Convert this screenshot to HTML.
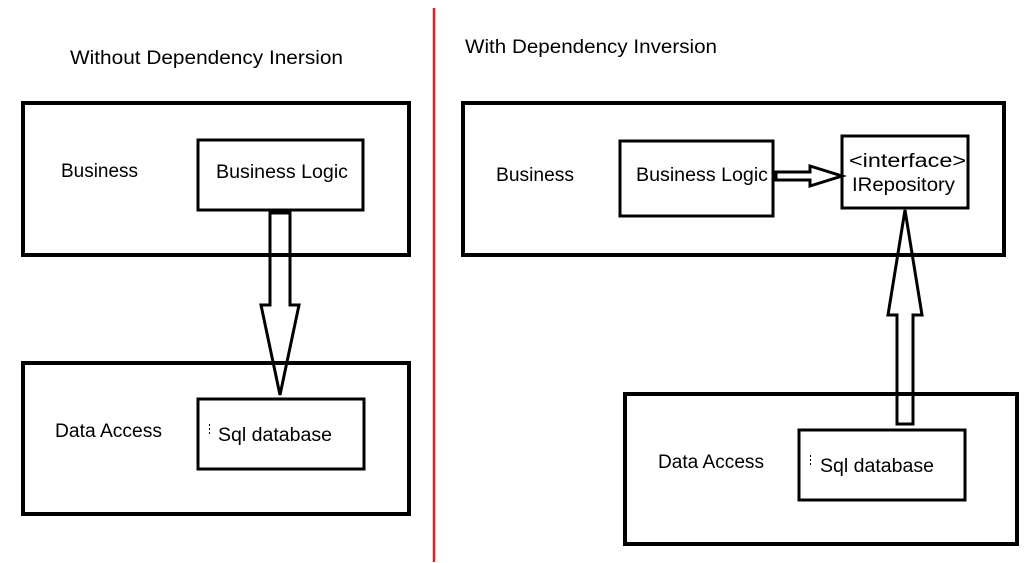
<!DOCTYPE html>
<html><head><meta charset="utf-8"><style>
html,body{margin:0;padding:0;background:#fff;}
svg{display:block;}
text{font-family:"Liberation Sans","DejaVu Sans",sans-serif;fill:#000;}
</style></head><body>
<svg width="1029" height="563" viewBox="0 0 1029 563" xmlns="http://www.w3.org/2000/svg">
<rect width="1029" height="563" fill="#fff"/>
<line x1="434" y1="8" x2="434" y2="562" stroke="#e02020" stroke-width="2.5"/>
<g fill="none" stroke="#000">
<rect x="23" y="103" width="386" height="152" stroke-width="4"/>
<rect x="198" y="140" width="165" height="70" stroke-width="3"/>
<rect x="23" y="363" width="386" height="151" stroke-width="4"/>
<rect x="198" y="399" width="166" height="70" stroke-width="3"/>
<polygon points="270,213 290,213 290,305 299,305 280,395 261,305 270,305" stroke-width="3" stroke-linejoin="miter"/>
<rect x="463" y="103" width="541" height="152" stroke-width="4"/>
<rect x="620" y="141" width="153" height="75" stroke-width="3"/>
<rect x="842" y="136" width="126" height="72" stroke-width="3"/>
<rect x="625" y="394" width="392" height="150" stroke-width="4"/>
<rect x="799" y="430" width="166" height="70" stroke-width="3"/>
<polygon points="776,172 810,172 810,166 842,176 810,186 810,180 776,180" stroke-width="3"/>
<polygon points="905,210 922,315 913,315 913,424 897,424 897,315 888,315" stroke-width="3"/>
</g>
<g fill="#000">
<rect x="209" y="424" width="1" height="2"/><rect x="209" y="428" width="1" height="2"/><rect x="209" y="432" width="1" height="2"/>
<rect x="810" y="455" width="1" height="2"/><rect x="810" y="459" width="1" height="2"/><rect x="810" y="463" width="1" height="2"/>
</g>
<g font-size="19" lengthAdjust="spacingAndGlyphs">
<text x="70" y="64" textLength="273" lengthAdjust="spacingAndGlyphs">Without Dependency Inersion</text>
<text x="465" y="53" textLength="252" lengthAdjust="spacingAndGlyphs">With Dependency Inversion</text>
<text x="61" y="177" textLength="77" lengthAdjust="spacingAndGlyphs">Business</text>
<text x="216" y="178" textLength="132" lengthAdjust="spacingAndGlyphs">Business Logic</text>
<text x="55" y="437" textLength="107" lengthAdjust="spacingAndGlyphs">Data Access</text>
<text x="218" y="441" textLength="114" lengthAdjust="spacingAndGlyphs">Sql database</text>
<text x="496" y="181" textLength="78" lengthAdjust="spacingAndGlyphs">Business</text>
<text x="636" y="181" textLength="132" lengthAdjust="spacingAndGlyphs">Business Logic</text>
<text x="849" y="167" textLength="117" lengthAdjust="spacingAndGlyphs">&lt;interface&gt;</text>
<text x="852" y="191" textLength="103" lengthAdjust="spacingAndGlyphs">IRepository</text>
<text x="658" y="468" textLength="106" lengthAdjust="spacingAndGlyphs">Data Access</text>
<text x="820" y="472" textLength="114" lengthAdjust="spacingAndGlyphs">Sql database</text>
</g>
</svg>
</body></html>
